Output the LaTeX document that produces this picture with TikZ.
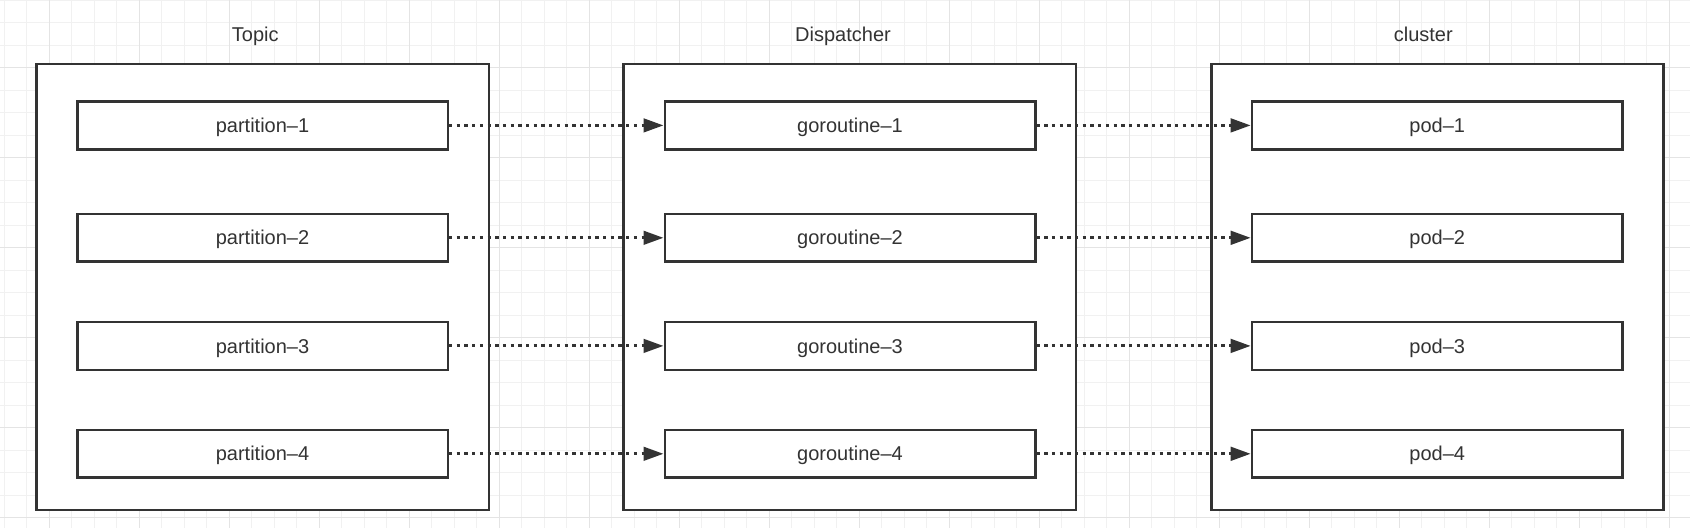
\documentclass[tikz,border=0pt]{standalone}
\usepackage{fontspec}
\setmainfont{Liberation Sans}
\usetikzlibrary{arrows.meta}
\definecolor{ink}{HTML}{333333}
\definecolor{gridminor}{HTML}{F1F1F1}
\definecolor{gridmajor}{HTML}{E4E4E4}
\tikzset{
  outerbox/.style={draw=ink, line width=2.5pt, fill=white, minimum width=452.3pt, minimum height=446pt, inner sep=0pt},
  innerbox/.style={draw=ink, line width=2.5pt, fill=white, minimum width=370.5pt, minimum height=47.8pt, inner sep=0pt,
    text=ink, font=\fontsize{20}{24}\selectfont, text height=14.2pt, text depth=0pt},
  titlelabel/.style={text=ink, font=\fontsize{20}{24}\selectfont, anchor=base, inner sep=0pt},
  conn/.style={draw=ink, line width=3pt, dash pattern=on 3.3pt off 4.4pt, -{Triangle[length=20pt,width=13.5pt]}},
  minorline/.style={draw=gridminor, line width=1pt},
  majorline/.style={draw=gridmajor, line width=1pt}
}
\begin{document}
\begin{tikzpicture}[x=1pt,y=-1pt]
\useasboundingbox (0,0) rectangle (1690,528);
\fill[white] (0,0) rectangle (1690,528);
% grid
\foreach \k in {0,...,74} \draw[minorline] ({4.2+22.5*\k},0) -- ({4.2+22.5*\k},528);
\foreach \k in {0,...,23} \draw[minorline] (0,{22.5*\k}) -- (1690,{22.5*\k});
\foreach \k in {0,...,18} \draw[majorline] ({49.2+90*\k},0) -- ({49.2+90*\k},528);
\foreach \k in {0,...,5} \draw[majorline] (0,{67.5+90*\k}) -- (1690,{67.5+90*\k});
% titles
\node[titlelabel] (ltopic) at (255.3,41.5) {Topic};
\node[titlelabel] (ldisp) at (843,41.5) {Dispatcher};
\node[titlelabel] (lclus) at (1423.3,41.5) {cluster};
% outer boxes
\node[outerbox] (topic) at (262.85,287) {};
\node[outerbox] (disp) at (849.85,287) {};
\node[outerbox] (clus) at (1437.5,287) {};
% inner boxes
\foreach \i/\y in {1/125.4,2/237.8,3/345.9,4/453.8}{
  \node[innerbox] (t\i) at (262.5,\y) {partition–\i};
  \node[innerbox] (d\i) at (850,\y) {goroutine–\i};
  \node[innerbox] (c\i) at (1437.2,\y) {pod–\i};
}
% connectors
\foreach \i in {1,...,4}{
  \draw[conn] (t\i.east) -- (d\i.west);
  \draw[conn] (d\i.east) -- (c\i.west);
}
\end{tikzpicture}
\end{document}
